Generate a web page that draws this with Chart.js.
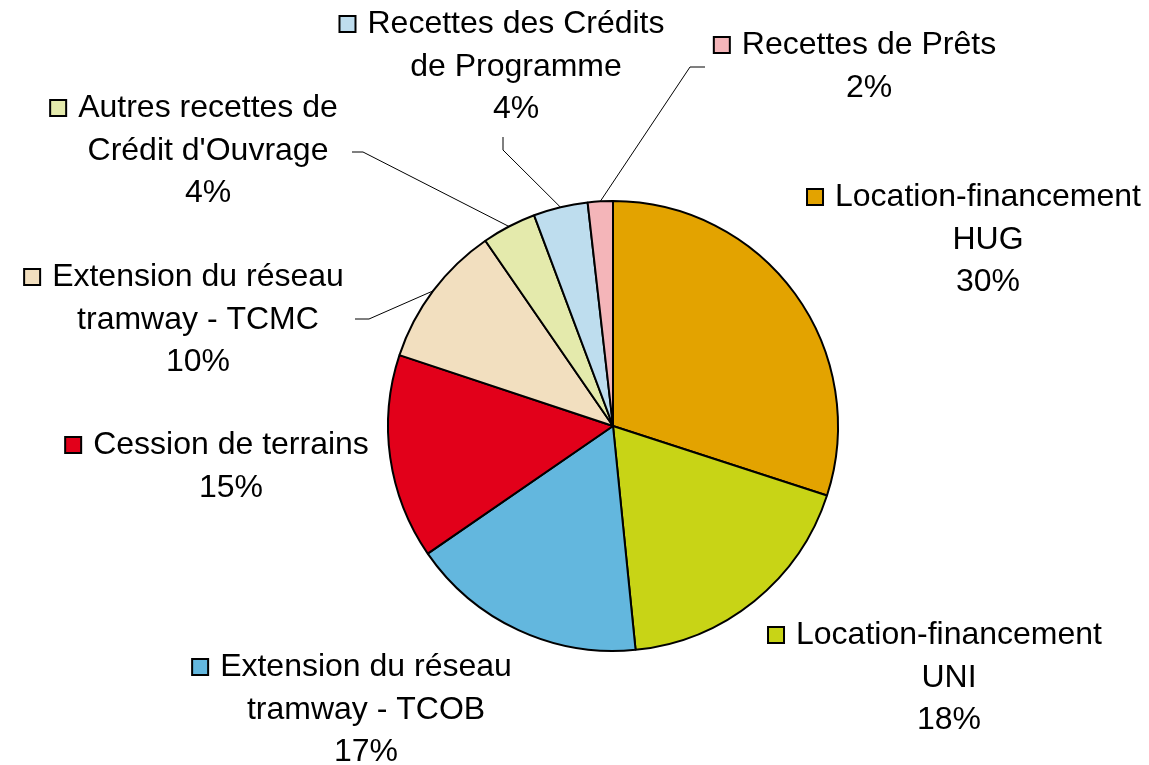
<!DOCTYPE html>
<html>
<head>
<meta charset="utf-8">
<script src="https://cdn.jsdelivr.net/npm/chart.js@4"></script>
<style>
  html, body { margin: 0; padding: 0; background: #fff; }
  #wrap { width: 1149px; height: 765px; }
</style>
</head>
<body>
<div id="wrap"><canvas id="pieChart" width="1149" height="765"></canvas></div>
<script>
// recettes par catégorie (en %)
const categories = [
    ["Location-financement", "HUG"],
    ["Location-financement", "UNI"],
    ["Extension du réseau", "tramway - TCOB"],
    ["Cession de terrains"],
    ["Extension du réseau", "tramway - TCMC"],
    ["Autres recettes de", "Crédit d'Ouvrage"],
    ["Recettes des Crédits", "de Programme"],
    ["Recettes de Prêts"]
];
const values = [30.0, 18.4, 17.0, 14.7, 10.3, 3.9, 3.9, 1.8];
const colors = ["#E3A300", "#C8D416", "#63B7DE", "#E2001A", "#F2DFBF", "#E4EAAC", "#BEDDEE", "#F4B5B9"];

// label placement: text centre x, first baseline y, optional leader points
const labelLayout = [
    { x: 988, y: 206 },
    { x: 949, y: 644 },
    { x: 366, y: 676 },
    { x: 231, y: 454 },
    { x: 198, y: 286, leader: [[355, 319], [369, 319]] },
    { x: 208, y: 117, leader: [[352, 152], [363, 152]] },
    { x: 516, y: 33, leader: [[503, 137], [503, 150]] },
    { x: 869, y: 54, leader: [[705, 67], [690, 67]] }
];

const total = values.reduce((a, b) => a + b, 0);

const outsideLabels = {
    id: "outsideLabels",
    afterDraw(chart) {
        const ctx = chart.ctx;
        const arcs = chart.getDatasetMeta(0).data;
        ctx.save();
        ctx.font = "32px 'Liberation Sans', Arial, sans-serif";
        ctx.fillStyle = "#000";
        ctx.textBaseline = "alphabetic";
        ctx.textAlign = "center";

        arcs.forEach((arc, i) => {
            const lay = labelLayout[i];
            const p = arc.getProps(["x", "y", "startAngle", "endAngle", "outerRadius"], true);

            // leader line to the middle of the slice edge
            if (lay.leader) {
                const mid = (p.startAngle + p.endAngle) / 2;
                const ex = p.x + Math.cos(mid) * p.outerRadius;
                const ey = p.y + Math.sin(mid) * p.outerRadius;
                ctx.beginPath();
                ctx.strokeStyle = "#000";
                ctx.lineWidth = 1;
                ctx.moveTo(lay.leader[0][0], lay.leader[0][1]);
                for (let k = 1; k < lay.leader.length; k++) {
                    ctx.lineTo(lay.leader[k][0], lay.leader[k][1]);
                }
                ctx.lineTo(ex, ey);
                ctx.stroke();
            }

            const pct = Math.round(values[i] / total * 100) + "%";
            const lines = categories[i].concat([pct]);
            lines.forEach((txt, j) => {
                ctx.fillText(txt, lay.x, lay.y + j * 42.5);
            });

            // legend key in front of the first line
            const w = ctx.measureText(lines[0]).width;
            const left = lay.x - w / 2 - 11 - 18;
            ctx.fillStyle = colors[i];
            ctx.fillRect(left + 1, lay.y - 17, 16, 16);
            ctx.strokeStyle = "#000";
            ctx.lineWidth = 2;
            ctx.strokeRect(left + 1, lay.y - 17, 16, 16);
            ctx.fillStyle = "#000";
        });
        ctx.restore();
    }
};

new Chart(document.getElementById("pieChart"), {
    type: "pie",
    data: {
        labels: categories.map(c => c.join(" ")),
        datasets: [{
            data: values,
            backgroundColor: colors,
            borderColor: "#000",
            borderWidth: 2
        }]
    },
    options: {
        responsive: false,
        animation: false,
        layout: {
            padding: { top: 200, bottom: 113, left: 387, right: 310 }
        },
        plugins: {
            legend: { display: false },
            tooltip: { enabled: false }
        }
    },
    plugins: [outsideLabels]
});
</script>
</body>
</html>
